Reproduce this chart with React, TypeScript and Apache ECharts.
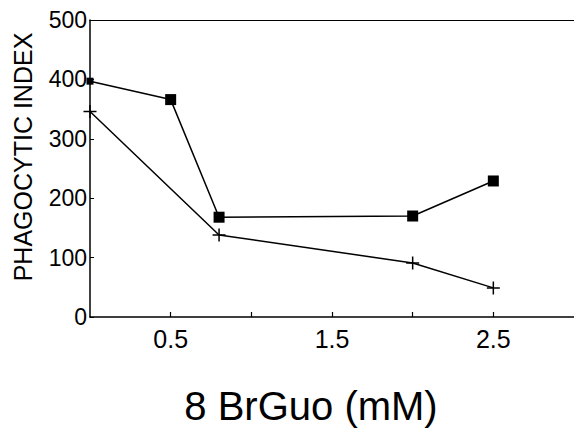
import React, { useEffect, useRef } from "react";
import * as echarts from "echarts";

const squareX = [0, 0.5, 0.8, 2.0, 2.5];
const squareY = [397, 366, 168, 170, 229];
const plusX = [0, 0.8, 2.0, 2.5];
const plusY = [346, 138, 91, 49];
const xLabelsShown = [0.5, 1.5, 2.5];
const xTickValues = [0.5, 1, 1.5, 2, 2.5];
const yTicks = [0, 100, 200, 300, 400, 500];

const FONT = "Liberation Sans, Arial, sans-serif";

export default function App() {
  const ref = useRef<HTMLDivElement>(null);
  useEffect(() => {
    if (!ref.current) return;
    const chart = echarts.init(ref.current, undefined, { renderer: "svg" });
    const sq = squareX.map((x, i) => [x, squareY[i]]);
    const pl = plusX.map((x, i) => [x, plusY[i]]);
    chart.setOption({
      animation: false,
      backgroundColor: "#fff",
      grid: { left: 90, right: 0, top: 20, bottom: 112 },
      xAxis: [
        {
          type: "value",
          min: 0,
          max: 3,
          interval: 0.5,
          axisLine: { show: true, lineStyle: { color: "#000", width: 1.5 } },
          axisTick: {
            show: true,
            inside: true,
            length: 5,
            customValues: xTickValues,
            lineStyle: { color: "#000", width: 1.2 },
          },
          splitLine: { show: false },
          axisLabel: {
            show: true,
            margin: 9,
            color: "#000",
            fontSize: 25,
            fontFamily: FONT,
            customValues: xLabelsShown,
            formatter: (v: number) => v.toFixed(1),
          },
        },
        {
          type: "value",
          position: "top",
          min: 0,
          max: 3,
          axisLine: { show: true, onZero: false, lineStyle: { color: "#000", width: 1.2 } },
          axisTick: { show: false },
          axisLabel: { show: false },
          splitLine: { show: false },
        },
      ],
      yAxis: {
        type: "value",
        min: yTicks[0],
        max: yTicks[yTicks.length - 1],
        interval: 100,
        axisLine: { show: true, lineStyle: { color: "#000", width: 1.5 } },
        axisTick: { show: true, inside: true, length: 4, lineStyle: { color: "#000", width: 1 } },
        splitLine: { show: false },
        axisLabel: { color: "#000", fontSize: 23, fontFamily: FONT, margin: 3 },
      },
      graphic: [
        {
          type: "text",
          x: 311,
          y: 406,
          style: {
            text: "8 BrGuo (mM)",
            fontSize: 40,
            fontFamily: FONT,
            fill: "#000",
            align: "center",
            verticalAlign: "middle",
          },
        },
        {
          type: "text",
          x: 23,
          y: 157,
          rotation: Math.PI / 2,
          style: {
            text: "PHAGOCYTIC INDEX",
            fontSize: 25,
            fontFamily: FONT,
            fill: "#000",
            align: "center",
            verticalAlign: "middle",
          },
        },
      ],
      series: [
        {
          type: "line",
          data: sq,
          symbol: "rect",
          symbolSize: (_v: any, p: any) => (p.dataIndex === 0 ? 7 : 11),
          lineStyle: { color: "#000", width: 1.5 },
          itemStyle: { color: "#000" },
          clip: false,
          z: 3,
        },
        {
          type: "line",
          data: pl,
          symbol: "path://M0,-1L0,1M-1,0L1,0",
          symbolSize: 13,
          lineStyle: { color: "#000", width: 1.5 },
          itemStyle: { color: "none", borderColor: "#000", borderWidth: 1.5 },
          clip: false,
          z: 3,
        },
      ],
    });
    return () => chart.dispose();
  }, []);
  return (
    <div
      ref={ref}
      style={{ position: "fixed", left: 0, top: 0, width: 574, height: 429, background: "#fff" }}
    />
  );
}
